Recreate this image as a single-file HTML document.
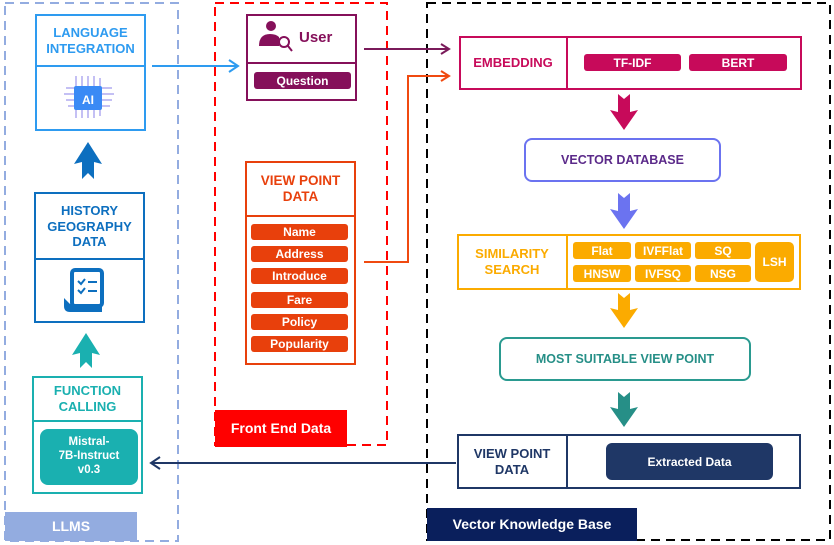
<!DOCTYPE html>
<html><head><meta charset="utf-8"><style>
*{margin:0;padding:0;box-sizing:border-box}
body{width:834px;height:545px;position:relative;background:#fff;font-family:"Liberation Sans",sans-serif;font-weight:bold;overflow:hidden}
.a{position:absolute}
.box{position:absolute;border:2px solid}
.t{position:absolute;display:flex;align-items:center;justify-content:center;text-align:center;line-height:1.2}
.pill{position:absolute;display:flex;align-items:center;justify-content:center;color:#fff;font-size:12px;border-radius:3px}
</style></head><body>
<svg class="a" style="left:0;top:0" width="834" height="545">
<rect x="5" y="3" width="173" height="538" fill="none" stroke="#93ace0" stroke-width="2" stroke-dasharray="9,6"/>
<rect x="215" y="3" width="172" height="442" fill="none" stroke="#f00" stroke-width="2" stroke-dasharray="9,6"/>
<rect x="427" y="3" width="403" height="537" fill="none" stroke="#000" stroke-width="2" stroke-dasharray="9,6"/>
<line x1="152" y1="66" x2="236" y2="66" stroke="#2e9bf0" stroke-width="2"/>
<polyline points="229,60 238,66 229,72" fill="none" stroke="#2e9bf0" stroke-width="2"/>
<line x1="364" y1="49" x2="448" y2="49" stroke="#7a1a5a" stroke-width="2"/>
<polyline points="441,44 449,49 441,54" fill="none" stroke="#7a1a5a" stroke-width="2"/>
<polyline points="364,262 408,262 408,76 448,76" fill="none" stroke="#f04a10" stroke-width="2"/>
<polyline points="441,71 449,76 441,81" fill="none" stroke="#f04a10" stroke-width="2"/>
<line x1="456" y1="463" x2="152" y2="463" stroke="#1f3766" stroke-width="2"/>
<polyline points="160,457 151,463 160,469" fill="none" stroke="#1f3766" stroke-width="2"/>
<path d="M618,94 L624,99 L630,94 L630,112 L638,110 L624,130 L610,110 L618,112Z" fill="#c70a5a"/>
<path d="M618,193 L624,198 L630,193 L630,211 L638,209 L624,229 L610,209 L618,211Z" fill="#6b73f0"/>
<path d="M618,293 L624,298 L630,293 L630,310 L638,308 L624,328 L610,308 L618,310Z" fill="#fbab00"/>
<path d="M618,392 L624,397 L630,392 L630,409 L638,407 L624,427 L610,407 L618,409Z" fill="#268f87"/>
<path d="M88,142 L102,164 L94,162 L94,179 L88,173 L82,179 L82,162 L74,164Z" fill="#0d6fbf"/>
<path d="M86,333 L100,355 L92,353 L92,368 L86,362 L80,368 L80,353 L72,355Z" fill="#1ab0b0"/>
<g stroke="#8a80e8" stroke-width="1" fill="none">
<line x1="76" y1="76" x2="76" y2="118"/><line x1="82" y1="76" x2="82" y2="118"/><line x1="88" y1="76" x2="88" y2="118"/><line x1="94" y1="76" x2="94" y2="118"/><line x1="100" y1="78" x2="100" y2="116"/>
<line x1="66" y1="88" x2="112" y2="88"/><line x1="64" y1="94" x2="114" y2="94"/><line x1="66" y1="100" x2="112" y2="100"/><line x1="68" y1="106" x2="110" y2="106"/>
</g>
<rect x="74" y="86" width="28" height="24" rx="2" fill="#3a8af5"/>
<text x="88" y="104" font-size="12" fill="#fff" text-anchor="middle" font-family="Liberation Sans">AI</text>
<rect x="72" y="270" width="30" height="36" rx="3" fill="#fff" stroke="#0d6fbf" stroke-width="4"/>
<path d="M64,298 L64,306 Q64,312 70,312 L102,312 L102,304 L70,304Z" fill="#0d6fbf"/>
<g stroke="#0d6fbf" stroke-width="2" fill="none"><polyline points="78,281 81,284 85,279"/><line x1="88" y1="282" x2="97" y2="282"/><polyline points="78,290 81,293 85,288"/><line x1="88" y1="291" x2="97" y2="291"/></g>
<circle cx="271" cy="26" r="5" fill="#85105a"/>
<path d="M259,46 Q259,34 270,34 Q276,34 279,37 L279,46Z" fill="#85105a"/>
<circle cx="284" cy="42" r="5" fill="#fff" stroke="#85105a" stroke-width="2"/>
<line x1="288" y1="46" x2="292" y2="51" stroke="#85105a" stroke-width="2"/>
</svg>

<div class="t" style="left:5px;top:512px;width:132px;height:29px;background:#93ace0;color:#fff;font-size:14px">LLMS</div>
<div class="box" style="left:35px;top:14px;width:111px;height:117px;border-color:#2e9bf0"></div>
<div class="a" style="left:35px;top:65px;width:111px;height:2px;background:#2e9bf0"></div>
<div class="t" style="left:35px;top:16px;width:111px;height:50px;color:#2e9bf0;font-size:13px">LANGUAGE<br>INTEGRATION</div>
<div class="box" style="left:34px;top:192px;width:111px;height:131px;border-color:#0d6fbf"></div>
<div class="a" style="left:34px;top:258px;width:111px;height:2px;background:#0d6fbf"></div>
<div class="t" style="left:34px;top:195px;width:111px;height:63px;color:#0d6fbf;font-size:13px">HISTORY<br>GEOGRAPHY<br>DATA</div>
<div class="box" style="left:32px;top:376px;width:111px;height:118px;border-color:#1ab0b0"></div>
<div class="a" style="left:32px;top:420px;width:111px;height:2px;background:#1ab0b0"></div>
<div class="t" style="left:32px;top:378px;width:111px;height:42px;color:#1ab0b0;font-size:13px">FUNCTION<br>CALLING</div>
<div class="t" style="left:40px;top:429px;width:98px;height:56px;background:#1ab0b0;border-radius:8px;color:#fff;font-size:11.5px">Mistral-<br>7B-Instruct<br>v0.3</div>

<div class="t" style="left:215px;top:410px;width:132px;height:37px;background:#f00;color:#fff;font-size:14px">Front End Data</div>
<div class="box" style="left:246px;top:14px;width:111px;height:87px;border-color:#85105a"></div>
<div class="a" style="left:246px;top:62px;width:111px;height:2px;background:#85105a"></div>
<div class="a" style="left:299px;top:29px;color:#85105a;font-size:15px">User</div>
<div class="pill" style="left:254px;top:72px;width:97px;height:17px;background:#85105a">Question</div>
<div class="box" style="left:245px;top:161px;width:111px;height:204px;border-color:#e8400c"></div>
<div class="a" style="left:245px;top:215px;width:111px;height:2px;background:#e8400c"></div>
<div class="t" style="left:245px;top:163px;width:111px;height:52px;color:#e8400c;font-size:13.5px">VIEW POINT<br>DATA</div>
<div class="pill" style="left:251px;top:224px;width:97px;height:16px;background:#e8400c">Name</div>
<div class="pill" style="left:251px;top:246px;width:97px;height:16px;background:#e8400c">Address</div>
<div class="pill" style="left:251px;top:268px;width:97px;height:16px;background:#e8400c">Introduce</div>
<div class="pill" style="left:251px;top:292px;width:97px;height:16px;background:#e8400c">Fare</div>
<div class="pill" style="left:251px;top:314px;width:97px;height:16px;background:#e8400c">Policy</div>
<div class="pill" style="left:251px;top:336px;width:97px;height:16px;background:#e8400c">Popularity</div>

<div class="t" style="left:427px;top:508px;width:210px;height:33px;background:#0a1f5c;color:#fff;font-size:14px">Vector Knowledge Base</div>
<div class="box" style="left:459px;top:36px;width:343px;height:54px;border-color:#c70a5a"></div>
<div class="a" style="left:566px;top:36px;width:2px;height:54px;background:#c70a5a"></div>
<div class="t" style="left:459px;top:36px;width:108px;height:54px;color:#c70a5a;font-size:13px">EMBEDDING</div>
<div class="pill" style="left:584px;top:54px;width:97px;height:17px;background:#c70a5a">TF-IDF</div>
<div class="pill" style="left:689px;top:54px;width:98px;height:17px;background:#c70a5a">BERT</div>
<div class="t" style="left:524px;top:138px;width:197px;height:44px;border:2px solid #6b73f0;border-radius:8px;color:#5b2a8a;font-size:12.5px">VECTOR DATABASE</div>
<div class="box" style="left:457px;top:234px;width:344px;height:56px;border-color:#fbab00"></div>
<div class="a" style="left:566px;top:234px;width:2px;height:56px;background:#fbab00"></div>
<div class="t" style="left:457px;top:234px;width:110px;height:56px;color:#fbab00;font-size:13px">SIMILARITY<br>SEARCH</div>
<div class="pill" style="left:573px;top:242px;width:58px;height:17px;background:#fbab00">Flat</div>
<div class="pill" style="left:635px;top:242px;width:56px;height:17px;background:#fbab00">IVFFlat</div>
<div class="pill" style="left:695px;top:242px;width:56px;height:17px;background:#fbab00">SQ</div>
<div class="pill" style="left:573px;top:265px;width:58px;height:17px;background:#fbab00">HNSW</div>
<div class="pill" style="left:635px;top:265px;width:56px;height:17px;background:#fbab00">IVFSQ</div>
<div class="pill" style="left:695px;top:265px;width:56px;height:17px;background:#fbab00">NSG</div>
<div class="pill" style="left:755px;top:242px;width:39px;height:40px;background:#fbab00;border-radius:5px">LSH</div>
<div class="t" style="left:499px;top:337px;width:252px;height:44px;border:2px solid #2a9a90;border-radius:8px;color:#268f87;font-size:12.5px">MOST SUITABLE VIEW POINT</div>
<div class="box" style="left:457px;top:434px;width:344px;height:55px;border-color:#1f3766"></div>
<div class="a" style="left:566px;top:434px;width:2px;height:55px;background:#1f3766"></div>
<div class="t" style="left:457px;top:434px;width:110px;height:55px;color:#1f3766;font-size:13px">VIEW POINT<br>DATA</div>
<div class="pill" style="left:606px;top:443px;width:167px;height:37px;background:#1f3766;border-radius:6px;font-size:12px">Extracted Data</div>
</body></html>
